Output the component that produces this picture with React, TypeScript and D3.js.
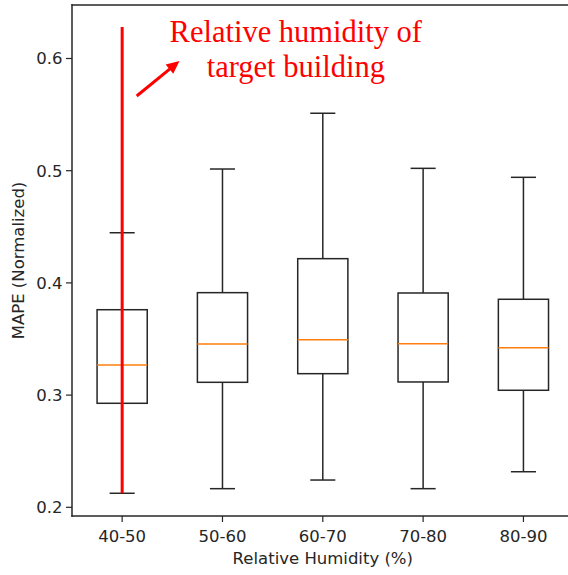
import React, { useEffect, useRef } from "react";
import * as d3 from "d3";

const categories = ["40-50", "50-60", "60-70", "70-80", "80-90"];
const whiskerHigh = [0.4447, 0.5015, 0.5512, 0.5021, 0.4941];
const q3Values = [0.3761, 0.3913, 0.4216, 0.391, 0.3854];
const medians = [0.3268, 0.3455, 0.3494, 0.3458, 0.3422];
const q1Values = [0.2927, 0.3114, 0.3191, 0.3117, 0.3043];
const whiskerLow = [0.2125, 0.2166, 0.2243, 0.2166, 0.2317];
const yTicks = [0.2, 0.3, 0.4, 0.5, 0.6];
const annotationLines = ["Relative humidity of", "target building"];
const targetLine = { category: "40-50", top: 0.628, bottom: 0.2125 };

const W = 568;
const H = 575;
const left = 72;
const right = 573.6;
const top = 5;
const bottom = 516;

export default function App() {
  const ref = useRef<SVGSVGElement>(null);

  useEffect(() => {
    document.body.style.margin = "0";
    document.body.style.overflow = "hidden";
    document.documentElement.style.overflow = "hidden";
    const svg = d3.select(ref.current);
    svg.selectAll("*").remove();

    const x = d3.scaleLinear().domain([0.5, 5.5]).range([left, right]);
    const y = d3.scaleLinear().domain([0.2, 0.6]).range([507.3, 58.5]);

    const g = svg.append("g");
    const axisColor = "#262626";
    const font = "DejaVu Sans, sans-serif";

    categories.forEach((c, i) => {
      const cx = x(i + 1);
      const bw = x(1.25) - x(1);
      const cw = x(1.125) - x(1);
      const stroke = "#262626";
      g.append("line").attr("x1", cx).attr("x2", cx).attr("y1", y(q3Values[i])).attr("y2", y(whiskerHigh[i])).attr("stroke", stroke).attr("stroke-width", 1.5);
      g.append("line").attr("x1", cx).attr("x2", cx).attr("y1", y(q1Values[i])).attr("y2", y(whiskerLow[i])).attr("stroke", stroke).attr("stroke-width", 1.5);
      g.append("line").attr("x1", cx - cw).attr("x2", cx + cw).attr("y1", y(whiskerHigh[i])).attr("y2", y(whiskerHigh[i])).attr("stroke", stroke).attr("stroke-width", 1.5);
      g.append("line").attr("x1", cx - cw).attr("x2", cx + cw).attr("y1", y(whiskerLow[i])).attr("y2", y(whiskerLow[i])).attr("stroke", stroke).attr("stroke-width", 1.5);
      g.append("rect")
        .attr("x", cx - bw)
        .attr("y", y(q3Values[i]))
        .attr("width", 2 * bw)
        .attr("height", y(q1Values[i]) - y(q3Values[i]))
        .attr("fill", "none")
        .attr("stroke", stroke)
        .attr("stroke-width", 1.5);
      g.append("line").attr("x1", cx - bw).attr("x2", cx + bw).attr("y1", y(medians[i])).attr("y2", y(medians[i])).attr("stroke", "#ff7f0e").attr("stroke-width", 1.5);
    });

    const ti = categories.indexOf(targetLine.category) + 1;
    g.append("line")
      .attr("x1", x(ti)).attr("x2", x(ti))
      .attr("y1", y(targetLine.top)).attr("y2", y(targetLine.bottom))
      .attr("stroke", "#ff0000").attr("stroke-width", 3);

    const ax1 = 136.7, ay1 = 96, ax2 = 179.5, ay2 = 61;
    const ang = Math.atan2(ay2 - ay1, ax2 - ax1);
    g.append("line").attr("x1", ax1).attr("y1", ay1).attr("x2", ax2 - 8 * Math.cos(ang)).attr("y2", ay2 - 8 * Math.sin(ang)).attr("stroke", "#ff0000").attr("stroke-width", 3);
    const hl = 13, hw = 6;
    const bx = ax2 - hl * Math.cos(ang), by = ay2 - hl * Math.sin(ang);
    const px = -Math.sin(ang), py = Math.cos(ang);
    g.append("path")
      .attr("d", `M${ax2},${ay2} L${bx + hw * px},${by + hw * py} L${bx - hw * px},${by - hw * py} Z`)
      .attr("fill", "#ff0000");

    annotationLines.forEach((t, i) => {
      g.append("text")
        .attr("x", 295.8)
        .attr("y", 42.3 + i * 34.5)
        .attr("text-anchor", "middle")
        .attr("font-family", "Liberation Serif, Times New Roman, serif")
        .attr("font-size", 30.5)
        .attr("fill", "#ff0000")
        .text(t);
    });

    g.append("line").attr("x1", left).attr("x2", left).attr("y1", top).attr("y2", bottom).attr("stroke", axisColor).attr("stroke-width", 1.5).attr("stroke-linecap", "square");
    g.append("line").attr("x1", left).attr("x2", right).attr("y1", bottom).attr("y2", bottom).attr("stroke", axisColor).attr("stroke-width", 1.5).attr("stroke-linecap", "square");
    g.append("line").attr("x1", left).attr("x2", right).attr("y1", top).attr("y2", top).attr("stroke", axisColor).attr("stroke-width", 1.5).attr("stroke-linecap", "square");

    yTicks.forEach((t) => {
      g.append("line").attr("x1", left - 6).attr("x2", left).attr("y1", y(t)).attr("y2", y(t)).attr("stroke", axisColor).attr("stroke-width", 1.2);
      g.append("text")
        .attr("x", left - 9.5)
        .attr("y", y(t))
        .attr("dy", "0.36em")
        .attr("text-anchor", "end")
        .attr("font-family", font)
        .attr("font-size", 16.5)
        .attr("fill", "#262626")
        .text(t.toFixed(1));
    });

    categories.forEach((c, i) => {
      const cx = x(i + 1);
      g.append("line").attr("x1", cx).attr("x2", cx).attr("y1", bottom).attr("y2", bottom + 6).attr("stroke", axisColor).attr("stroke-width", 1.2);
      g.append("text")
        .attr("x", cx)
        .attr("y", 541.7)
        .attr("text-anchor", "middle")
        .attr("font-family", font)
        .attr("font-size", 16.5)
        .attr("fill", "#262626")
        .text(c);
    });

    g.append("text")
      .attr("x", (left + right) / 2)
      .attr("y", 564.3)
      .attr("text-anchor", "middle")
      .attr("font-family", font)
      .attr("font-size", 16.5)
      .attr("fill", "#262626")
      .text("Relative Humidity (%)");

    g.append("text")
      .attr("transform", `translate(24.3, ${(top + bottom) / 2}) rotate(-90)`)
      .attr("text-anchor", "middle")
      .attr("font-family", font)
      .attr("font-size", 16.5)
      .attr("fill", "#262626")
      .text("MAPE (Normalized)");
  }, []);

  return (
    <svg
      ref={ref}
      width={W}
      height={H}
      style={{ position: "absolute", left: 0, top: 0, background: "#fff", display: "block" }}
    />
  );
}
